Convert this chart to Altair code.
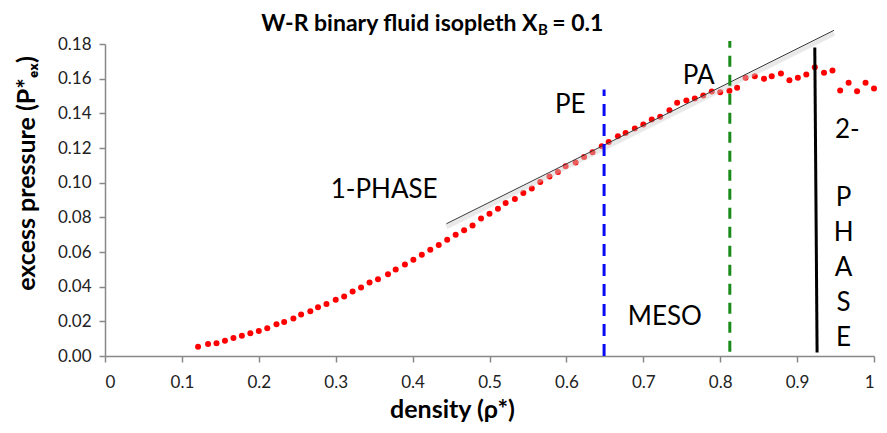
import altair as alt
import pandas as pd

# ---- data ----
rho = [0.121, 0.134, 0.145, 0.156, 0.167, 0.178, 0.189, 0.200, 0.211, 0.223,
       0.233, 0.245, 0.255, 0.267, 0.277, 0.288, 0.300, 0.311, 0.322, 0.333,
       0.344, 0.355, 0.368, 0.378, 0.390, 0.401, 0.412, 0.423, 0.434, 0.445,
       0.456, 0.467, 0.478, 0.489, 0.500,
       0.511, 0.521, 0.533, 0.544, 0.555, 0.566, 0.578, 0.589, 0.599, 0.612,
       0.623, 0.634, 0.646, 0.655, 0.667, 0.677, 0.689, 0.700, 0.711, 0.722,
       0.734, 0.744, 0.756, 0.767, 0.778, 0.789, 0.800, 0.812, 0.822, 0.833,
       0.845, 0.857, 0.867, 0.879, 0.890, 0.901, 0.912, 0.923, 0.935, 0.946,
       0.956, 0.967, 0.978, 0.989, 1.000]
pex = [0.0054, 0.0069, 0.0073, 0.0088, 0.0104, 0.0117, 0.0131, 0.0144, 0.0160, 0.0183,
       0.0196, 0.0216, 0.0239, 0.0258, 0.0281, 0.0300, 0.0325, 0.0343, 0.0372, 0.0395,
       0.0424, 0.0443, 0.0472, 0.0499, 0.0528, 0.0556, 0.0584, 0.0613, 0.0641, 0.0670,
       0.0699, 0.0726, 0.0753, 0.0793, 0.0820,
       0.0850, 0.0883, 0.0906, 0.0940, 0.0967, 0.1004, 0.1035, 0.1062, 0.1094, 0.1117,
       0.1148, 0.1175, 0.1210, 0.1235, 0.1268, 0.1287, 0.1312, 0.1335, 0.1364, 0.1380,
       0.1418, 0.1461, 0.1474, 0.1485, 0.1503, 0.1526, 0.1522, 0.1530, 0.1547, 0.1605,
       0.1614, 0.1599, 0.1614, 0.1630, 0.1591, 0.1605, 0.1624, 0.1666, 0.1634, 0.1647,
       0.1532, 0.1576, 0.1528, 0.1576, 0.1543]

# tangent line end points
tan_x = [0.444, 0.948]
tan_y = [0.0763, 0.1879]

# boundary lines (x, y-bottom, x2, y-top)
pe_line = [0.649, 0.0, 0.649, 0.1537]
pa_line = [0.8125, 0.0025, 0.8125, 0.1817]
two_phase_line = [0.926, 0.002, 0.923, 0.178]

# annotation labels
lab_text = ["1-PHASE", "PE", "PA", "MESO", "2-", "P", "H", "A", "S", "E"]
lab_x = [0.363, 0.605, 0.772, 0.728, 0.9653, 0.9604, 0.9604, 0.9604, 0.9604, 0.9604]
lab_y = [0.0960, 0.1450, 0.1613, 0.0225, 0.1306, 0.0913, 0.0711, 0.0509, 0.0306, 0.0104]

x_ticks = [0, 0.1, 0.2, 0.3, 0.4, 0.5, 0.6, 0.7, 0.8, 0.9, 1.0]
y_ticks = [0.00, 0.02, 0.04, 0.06, 0.08, 0.10, 0.12, 0.14, 0.16, 0.18]

FONT = "Lato"
GRAY = "#888888"

pts = pd.DataFrame({"rho": rho, "pex": pex})
tan = pd.DataFrame({"rho": tan_x, "pex": tan_y})
labs = pd.DataFrame({"t": lab_text, "x": lab_x, "y": lab_y})

xs = alt.Scale(domain=[0, 1], nice=False, zero=False)
ys = alt.Scale(domain=[0, 0.18], nice=False, zero=True)

x_axis = alt.Axis(values=x_ticks, format="~g", grid=False, title="density (ρ*)",
                  labelOverlap=False, labelSeparation=0,
                  titleX=347, titleY=53, titleBaseline="middle", titleAlign="center")
y_axis = alt.Axis(values=y_ticks, format=".2f", grid=False, title="excess pressure (P*ₑₓ)",
                  labelOverlap=False, labelSeparation=0,
                  titleX=-79, titleY=129, titleBaseline="middle", titleAlign="center",
                  titleAngle=270)

points = alt.Chart(pts).mark_circle(size=36, color="#FF0000", opacity=1).encode(
    x=alt.X("rho:Q", scale=xs, axis=x_axis),
    y=alt.Y("pex:Q", scale=ys, axis=y_axis),
)

shadow = alt.Chart(tan).mark_line(color="#cfcfcf", strokeWidth=5, opacity=0.45, yOffset=3).encode(
    x=alt.X("rho:Q", scale=xs, axis=x_axis), y=alt.Y("pex:Q", scale=ys, axis=y_axis))
tline = alt.Chart(tan).mark_line(color="#3a3a3a", strokeWidth=1).encode(
    x=alt.X("rho:Q", scale=xs, axis=x_axis), y=alt.Y("pex:Q", scale=ys, axis=y_axis))


def rule(vals, color, dash=None, width=3):
    df = pd.DataFrame({"x": [vals[0]], "y": [vals[1]], "x2": [vals[2]], "y2": [vals[3]]})
    kw = dict(color=color, strokeWidth=width)
    if dash:
        kw["strokeDash"] = dash
    return alt.Chart(df).mark_rule(**kw).encode(
        x=alt.X("x:Q", scale=xs, axis=x_axis), y=alt.Y("y:Q", scale=ys, axis=y_axis),
        x2="x2:Q", y2="y2:Q")


pe = rule(pe_line, "#0A0AF5", [12, 8])
pa = rule(pa_line, "#1A8A1A", [11, 8])
tp = rule(two_phase_line, "#000000", None, 3)

labels = alt.Chart(labs).mark_text(font=FONT, fontSize=26, color="#000000",
                                   align="center", baseline="middle").encode(
    x=alt.X("x:Q", scale=xs, axis=x_axis), y=alt.Y("y:Q", scale=ys, axis=y_axis), text="t:N")

# title pieces (placed in data coordinates above the plot)
title_df = pd.DataFrame({"t": ["W-R binary fluid isopleth X"], "x": [0.5624], "y": [0.1875]})
sub_df = pd.DataFrame({"t": ["B"], "x": [0.5631], "y": [0.1850]})
rest_df = pd.DataFrame({"t": ["= 0.1"], "x": [0.5817], "y": [0.1875]})


def title_piece(df, size, align):
    return alt.Chart(df).mark_text(font=FONT, fontSize=size, fontWeight="bold", align=align,
                                   baseline="alphabetic", color="#000000").encode(
        x=alt.X("x:Q", scale=xs, axis=x_axis), y=alt.Y("y:Q", scale=ys, axis=y_axis),
        text="t:N")


t1 = title_piece(title_df, 23, "right")
t2 = title_piece(sub_df, 15, "left")
t3 = title_piece(rest_df, 23, "left")

chart = alt.layer(points, shadow, tline, pe, pa, tp, labels, t1, t2, t3).properties(
    width=769, height=312,
    padding={"left": 97, "top": 36, "right": 5, "bottom": 69},
    autosize=alt.AutoSizeParams(type="none"),
).configure_view(stroke=None).configure_axis(
    domainColor=GRAY, domainWidth=1.5, tickColor=GRAY, tickWidth=1.5, tickSize=6,
    labelFont=FONT, labelFontSize=17, labelColor="#222222", labelOverlap=False,
    titleFont=FONT, titleFontSize=25, titleFontWeight="bold", titleColor="#000000",
).configure_axisY(labelPadding=8).configure_axisX(labelPadding=12)

chart.save("out.html", embed_options={"renderer": "svg", "actions": False})
